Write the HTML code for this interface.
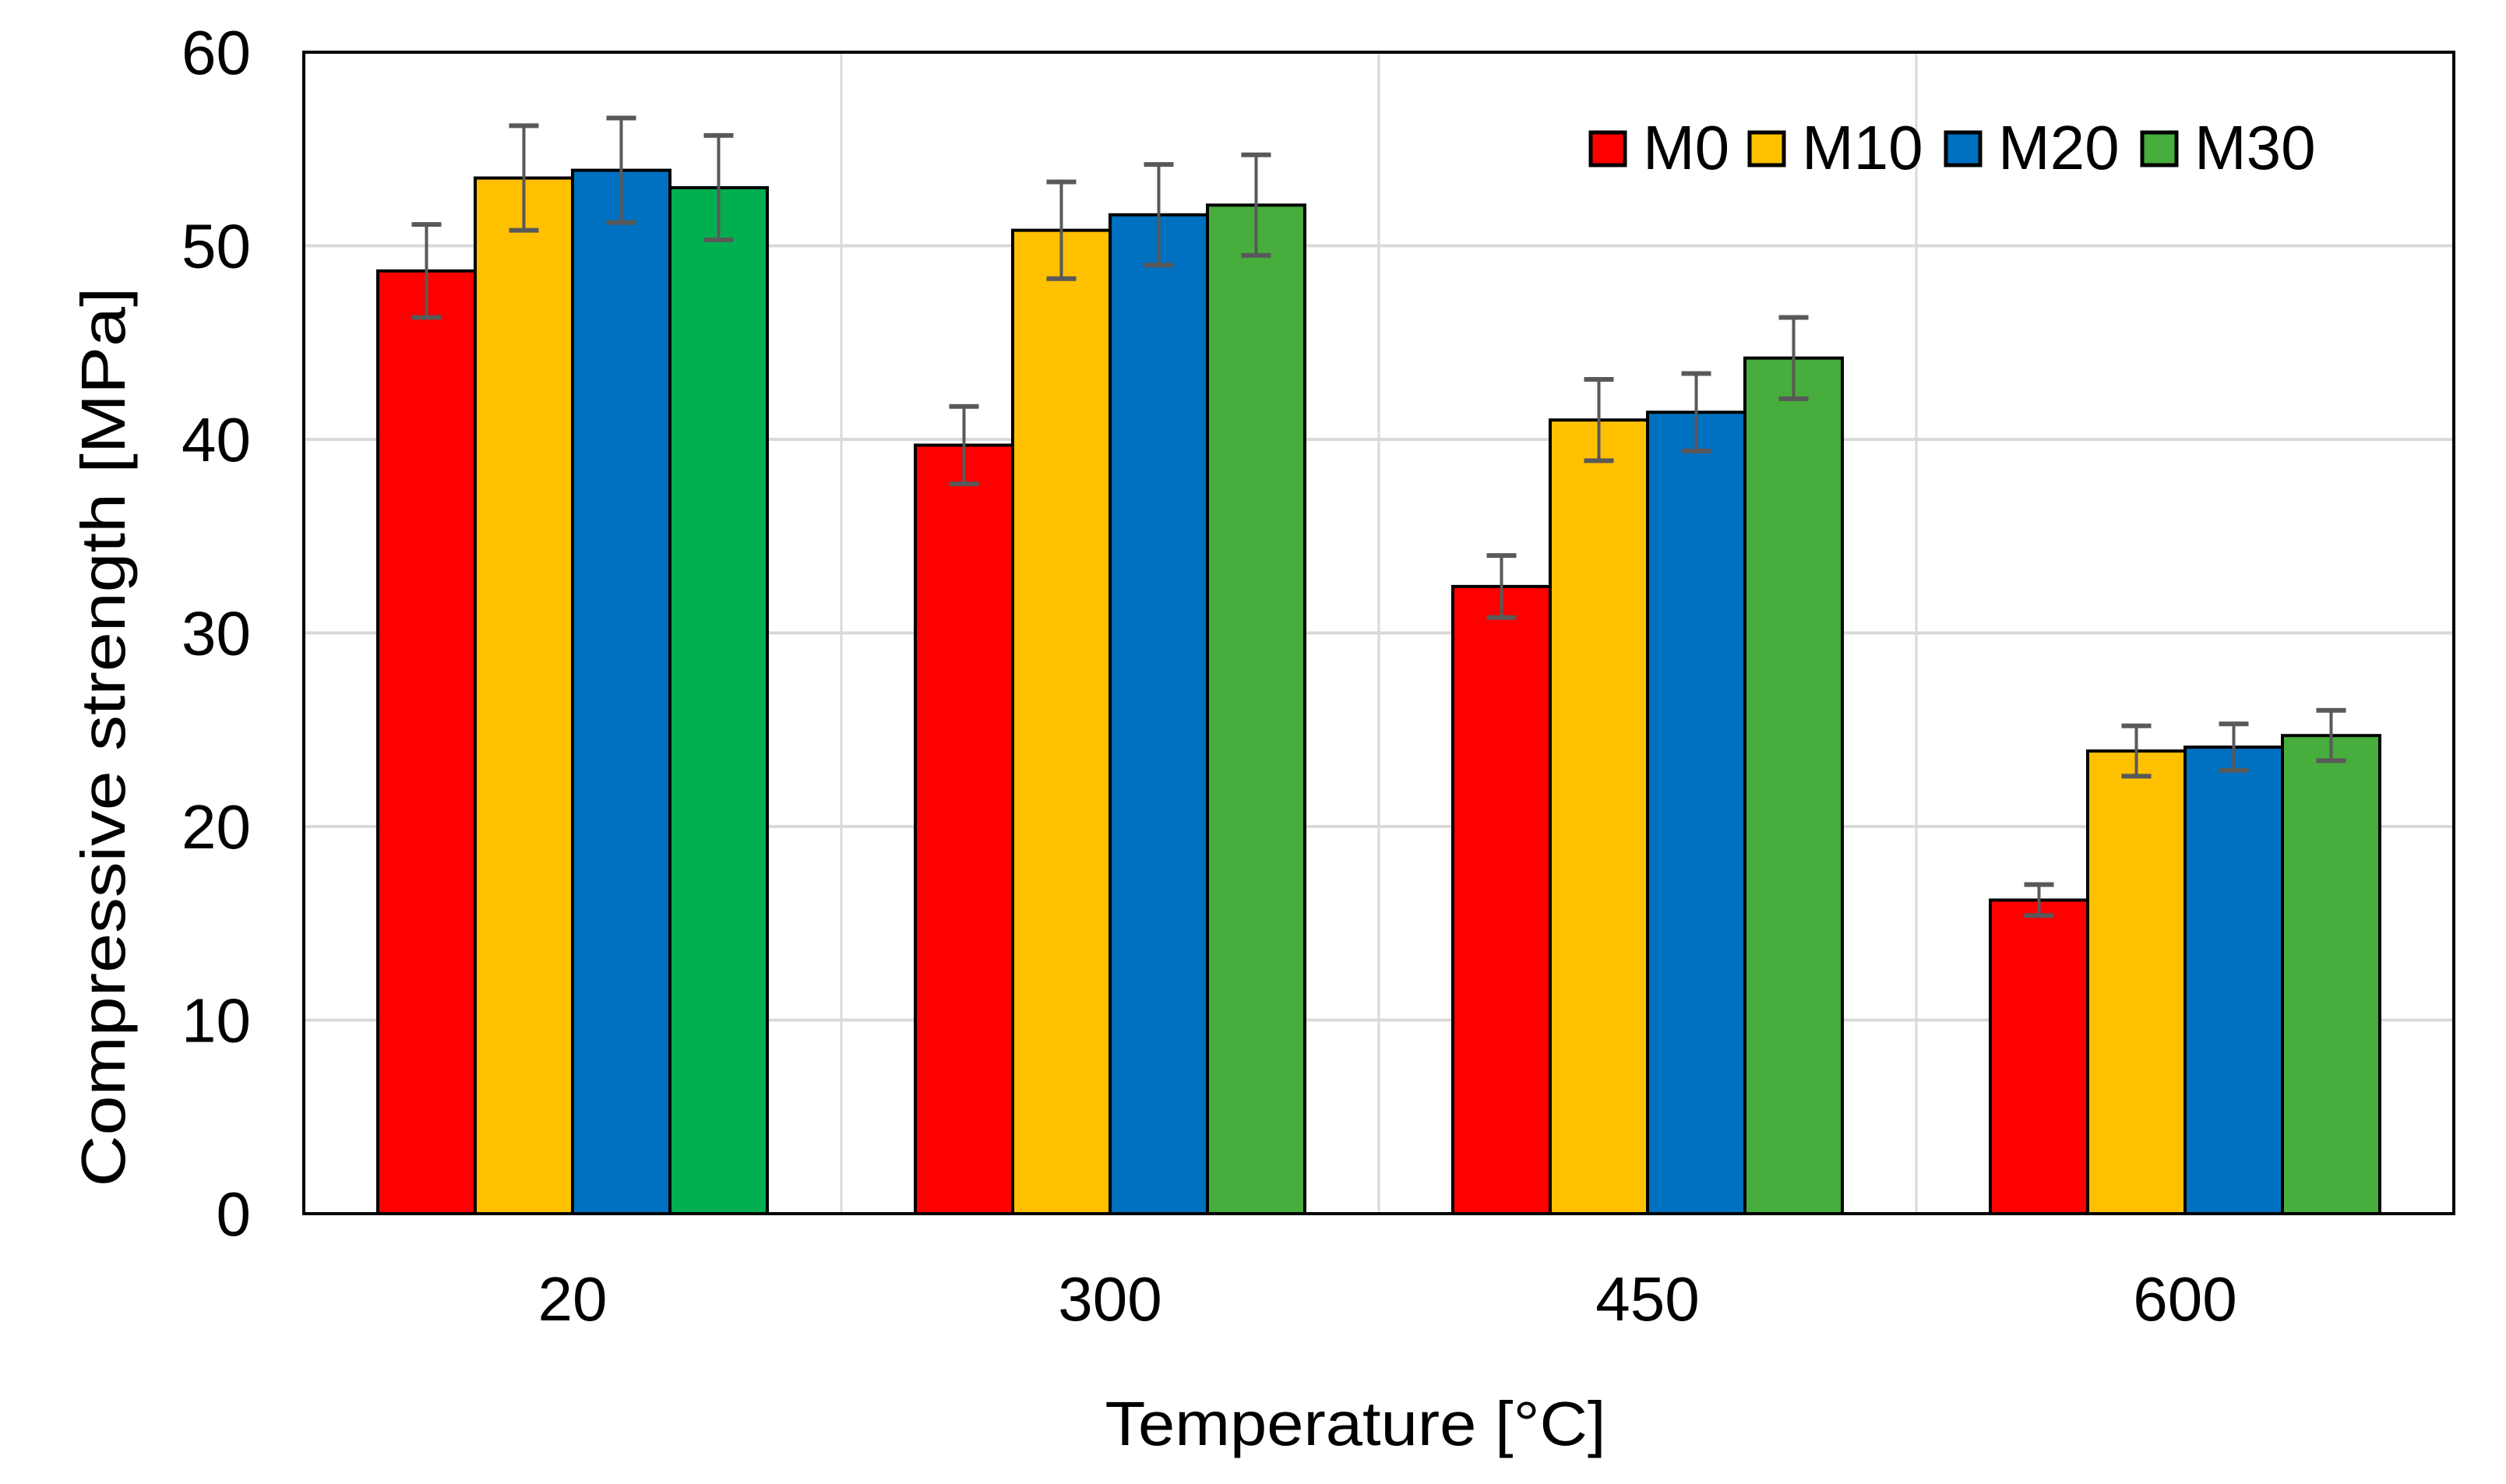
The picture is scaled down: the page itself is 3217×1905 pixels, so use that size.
<!DOCTYPE html>
<html><head><meta charset="utf-8"><style>
html,body{margin:0;padding:0;background:#fff;}
svg{display:block;font-family:"Liberation Sans",Arial,sans-serif;}
</style></head><body>
<svg id="chart" width="3217" height="1905" viewBox="0 0 3217 1905" xmlns="http://www.w3.org/2000/svg">
<rect x="0" y="0" width="3217" height="1905" fill="#fff"/>
<g id="grid"></g>
<g id="bars"></g>
<g id="errs"></g>
<rect x="390" y="67" width="2760" height="1491" fill="none" stroke="#000" stroke-width="4"/>
<g id="yticks"></g>
<g id="xticks"></g>
<text transform="translate(160,946) rotate(-90)" text-anchor="middle" font-size="80" textLength="1155" lengthAdjust="spacingAndGlyphs">Compressive strength [MPa]</text>
<text x="1740" y="1855" text-anchor="middle" font-size="80" textLength="643" lengthAdjust="spacingAndGlyphs">Temperature [°C]</text>
<g id="legend"></g>
</svg>
<script>
const categories = ["20", "300", "450", "600"];
const seriesNames = ["M0", "M10", "M20", "M30"];
const m0 = [48.7, 39.7, 32.4, 16.2];
const m10 = [53.5, 50.8, 41.0, 23.9];
const m20 = [53.9, 51.6, 41.4, 24.1];
const m30 = [53.0, 52.1, 44.2, 24.7];
const m0Err = [2.4, 2.0, 1.6, 0.8];
const m10Err = [2.7, 2.5, 2.1, 1.3];
const m20Err = [2.7, 2.6, 2.0, 1.2];
const m30Err = [2.7, 2.6, 2.1, 1.3];
const yTicks = [0, 10, 20, 30, 40, 50, 60];

const NS = "http://www.w3.org/2000/svg";
const L = 390, R = 3150, T = 67, B = 1558, yMax = 60;
const catW = (R - L) / categories.length;
const barW = 125;
const y = v => B - (v / yMax) * (B - T);
const xCat = i => L + catW * (i + 0.5);
const xBar = (i, s) => xCat(i) - 2 * barW + s * barW;
const values = [m0, m10, m20, m30];
const errs = [m0Err, m10Err, m20Err, m30Err];
const colors = ["#FF0000", "#FFC000", "#0070C0", "#47AD3C"];
function mk(tag, attrs, parent) {
  const e = document.createElementNS(NS, tag);
  for (const k in attrs) e.setAttribute(k, attrs[k]);
  parent.appendChild(e);
  return e;
}
const grid = document.getElementById("grid");
yTicks.forEach(t => {
  if (t === 0 || t === yMax) return;
  const l = mk("line", {x1: L, x2: R, y1: y(t), y2: y(t), stroke: "#d9d9d9", "stroke-width": 4}, grid);
  
  
});
for (let i = 1; i < categories.length; i++) {
  const x = L + catW * i;
  const l = mk("line", {x1: x, x2: x, y1: T, y2: B, stroke: "#d9d9d9", "stroke-width": 3}, grid);
  
  
}
const bars = document.getElementById("bars");
const eg = document.getElementById("errs");
categories.forEach((c, i) => {
  values.forEach((arr, s) => {
    const fill = (s === 3 && i === 0) ? "#00B050" : colors[s];
    const r = mk("rect", {x: xBar(i, s), y: y(arr[i]), width: barW, height: B - y(arr[i]), fill: fill, stroke: "#000", "stroke-width": 4}, bars);
    
    
    const cx = xBar(i, s) + barW / 2;
    const hi = y(arr[i] + errs[s][i]), lo = y(arr[i] - errs[s][i]);
    const g = mk("g", {stroke: "#595959", "stroke-width": 4}, eg);
    
    
    mk("line", {x1: cx, x2: cx, y1: hi, y2: lo}, g);
    mk("line", {x1: cx - 19, x2: cx + 19, y1: hi, y2: hi, "stroke-width": 6}, g);
    mk("line", {x1: cx - 19, x2: cx + 19, y1: lo, y2: lo, "stroke-width": 6}, g);
  });
  const t = mk("text", {x: xCat(i), y: 1695, "text-anchor": "middle", "font-size": 80}, document.getElementById("xticks"));
  t.textContent = c;
  
  
});
yTicks.forEach(v => {
  const t = mk("text", {x: 322, y: y(v) + 28, "text-anchor": "end", "font-size": 80}, document.getElementById("yticks"));
  t.textContent = v;
  
  
});
const lg = document.getElementById("legend");
const legX = [2042, 2246, 2498, 2750];
seriesNames.forEach((n, s) => {
  const g = mk("g", {}, lg);
  
  
  mk("rect", {x: legX[s], y: 170, width: 44, height: 42, fill: colors[s], stroke: "#000", "stroke-width": 5}, g);
  const t = mk("text", {x: legX[s] + 67, y: 217, "font-size": 80}, g);
  t.textContent = n;
});
</script>
</body></html>
